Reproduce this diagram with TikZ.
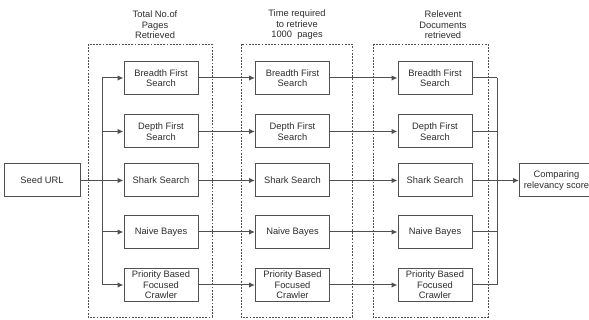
\documentclass[tikz,border=0pt]{standalone}
\usepackage{fontspec}
\setmainfont{Liberation Sans}
\usetikzlibrary{arrows.meta}
\definecolor{lineg}{RGB}{80,80,80}
\definecolor{textg}{RGB}{45,45,45}
\begin{document}
\begin{tikzpicture}[x=0.75pt,y=0.75pt,yscale=-1,xscale=1,
  every node/.style={font=\fontsize{7}{7.9}\selectfont, text=textg},
  box/.style={draw=lineg, line width=0.75pt, minimum width=55.5pt, minimum height=24.75pt, inner sep=0pt, align=center},
  group/.style={draw=lineg, line width=0.6pt, dash pattern={on 1.3pt off 1.1pt}},
  flow/.style={draw=lineg, line width=0.75pt, -{Latex[length=4.5pt,width=4pt]}},
  link/.style={draw=lineg, line width=0.75pt}]
\useasboundingbox (0,0) rectangle (589,320);

% Dashed groups
\draw [group] (88,44) rectangle (212,317);
\draw [group] (241,44) rectangle (352,317);
\draw [group] (373,44) rectangle (488,317);

% Titles
\draw (155,25) node [align=center] (ttlA) {Total No.of\\Pages\\Retrieved};
\draw (297,25) node [align=center] (ttlB) {Time required\\to retrieve\\1000~~pages};
\draw (443,25) node [align=center] (ttlC) {Relevent\\Documents\\retrieved};

% Seed and result
\draw (42,180.5) node [box, minimum width=57pt] (seed) {Seed URL};
\draw (556.5,180.5) node [box] (comp) {Comparing\\relevancy score};

% Column A
\draw (161,78) node [box] (bfsA) {Breadth First\\Search};
\draw (161,131.5) node [box] (dfsA) {Depth First\\Search};
\draw (161,180.5) node [box] (shkA) {Shark Search};
\draw (161,232) node [box] (nbA) {Naive Bayes};
\draw (161,285) node [box] (pbA) {Priority Based\\Focused\\Crawler};
% Column B
\draw (292.5,78) node [box] (bfsB) {Breadth First\\Search};
\draw (292.5,131.5) node [box] (dfsB) {Depth First\\Search};
\draw (292.5,180.5) node [box] (shkB) {Shark Search};
\draw (292.5,232) node [box] (nbB) {Naive Bayes};
\draw (292.5,285) node [box] (pbB) {Priority Based\\Focused\\Crawler};
% Column C
\draw (435,78) node [box] (bfsC) {Breadth First\\Search};
\draw (435,131.5) node [box] (dfsC) {Depth First\\Search};
\draw (435,180.5) node [box] (shkC) {Shark Search};
\draw (435,232) node [box] (nbC) {Naive Bayes};
\draw (435,285) node [box] (pbC) {Priority Based\\Focused\\Crawler};

% Fan out from seed
\coordinate (spine) at (102,180.5);
\coordinate (merge) at (497,180.5);
\draw [link] (spine |- bfsA.west) -- (spine |- pbA.west);
\draw [flow] (seed.east) -- (shkA.west);
\foreach \n in {bfsA,dfsA,nbA,pbA}
  \draw [flow] (spine |- \n.west) -- (\n.west);

% Column to column
\foreach \a/\b in {bfsA/bfsB,dfsA/dfsB,shkA/shkB,nbA/nbB,pbA/pbB,bfsB/bfsC,dfsB/dfsC,shkB/shkC,nbB/nbC,pbB/pbC}
  \draw [flow] (\a.east) -- (\b.west);

% Merge into comparison
\draw [link] (merge |- bfsC.east) -- (merge |- pbC.east);
\foreach \n in {bfsC,dfsC,nbC,pbC}
  \draw [link] (\n.east) -- (merge |- \n.east);
\draw [flow] (shkC.east) -- (comp.west);

\end{tikzpicture}
\end{document}
